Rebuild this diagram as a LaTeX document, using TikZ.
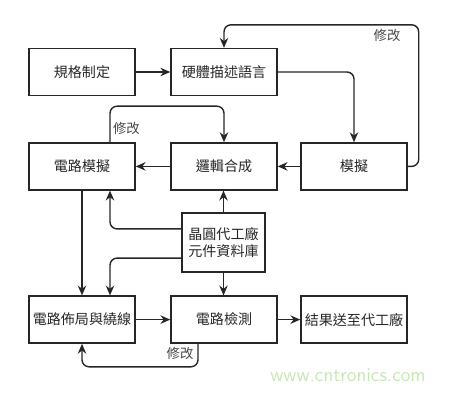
\documentclass[tikz,border=0pt]{standalone}
\usepackage{fontspec}
\newfontfamily\cjk{Noto Sans CJK TC}
\usepackage{xcolor}
\usepackage{tikz}
\usetikzlibrary{arrows.meta, positioning, calc}
\definecolor{fgray}{HTML}{262626}
\definecolor{wmgreen}{HTML}{C8E6B4}

\begin{document}
\begin{tikzpicture}[x=1cm, y=1cm,
    stepbox/.style={draw=fgray, line width=1pt, minimum width=2.65cm,
      minimum height=1.175cm, inner sep=0pt, font=\cjk\fontsize{10}{12}\selectfont,
      text=fgray},
    link/.style={draw=fgray, line width=1pt, rounded corners=5pt,
      -{Stealth[length=7pt, width=6pt]}},
    fixlabel/.style={font=\cjk\fontsize{9.5}{11}\selectfont, text=fgray!85}]

  \useasboundingbox (0,0) rectangle (11.225,9.8);

  %% first row
  \node[stepbox] (spec) at (2.05,8.0) {規格制定};
  \node[stepbox] (hdl)  at (5.60,8.0) {硬體描述語言};

  %% second row
  \node[stepbox] (csim)  at (2.05,5.64) {電路模擬};
  \node[stepbox] (synth) at (5.60,5.64) {邏輯合成};
  \node[stepbox] (sim)   at (8.85,5.64) {模擬};

  %% cell library
  \node[stepbox, minimum width=2.075cm, minimum height=1.475cm, align=center]
    (lib) at (5.5875,3.7375) {晶圓代工廠\\元件資料庫};

  %% third row
  \node[stepbox] (pr)    at (2.05,1.81) {電路佈局與繞線};
  \node[stepbox] (check) at (5.60,1.81) {電路檢測};
  \node[stepbox] (fab)   at (8.85,1.81) {結果送至代工廠};

  %% main flow
  \draw[link] (spec) -- (hdl);
  \draw[link] (hdl.east) -| (sim.north);
  \draw[link] (sim) -- (synth);
  \draw[link] (synth) -- (csim);
  \draw[link] (csim.south) -- (pr.north);
  \draw[link] (pr) -- (check);
  \draw[link] (check) -- (fab);

  %% library inputs
  \draw[link] (lib.north) -- (lib.north |- synth.south);
  \draw[link] (lib.south) -- (lib.south |- check.north);
  \draw[link] ([yshift=0.34cm]lib.west) -| ([xshift=0.7cm]csim.south);
  \draw[link] ([yshift=-0.39cm]lib.west) -| ([xshift=0.7cm]pr.north);

  %% feedback loops
  \draw[link] (sim.east) -- ++(0.275,0) |- ([yshift=0.575cm]hdl.north) -- (hdl.north);
  \node[fixlabel] (fix1) at (9.675,8.92) {修改};

  \draw[link] ([xshift=0.7cm]csim.north) |- ([yshift=0.9cm]synth.north) -- (synth.north);
  \node[fixlabel] (fix2) at (3.16,6.6) {修改};

  \draw[link] ([xshift=-0.65cm]check.south) -- ++(0,-0.575) -| (pr.south);
  \node[fixlabel] (fix3) at (4.5,0.975) {修改};

  %% watermark
  \node[font=\sffamily\fontsize{14}{16}\selectfont, text=wmgreen] (wm) at (8.7,0.42)
    {www.cntronics.com};

\end{tikzpicture}
\end{document}
